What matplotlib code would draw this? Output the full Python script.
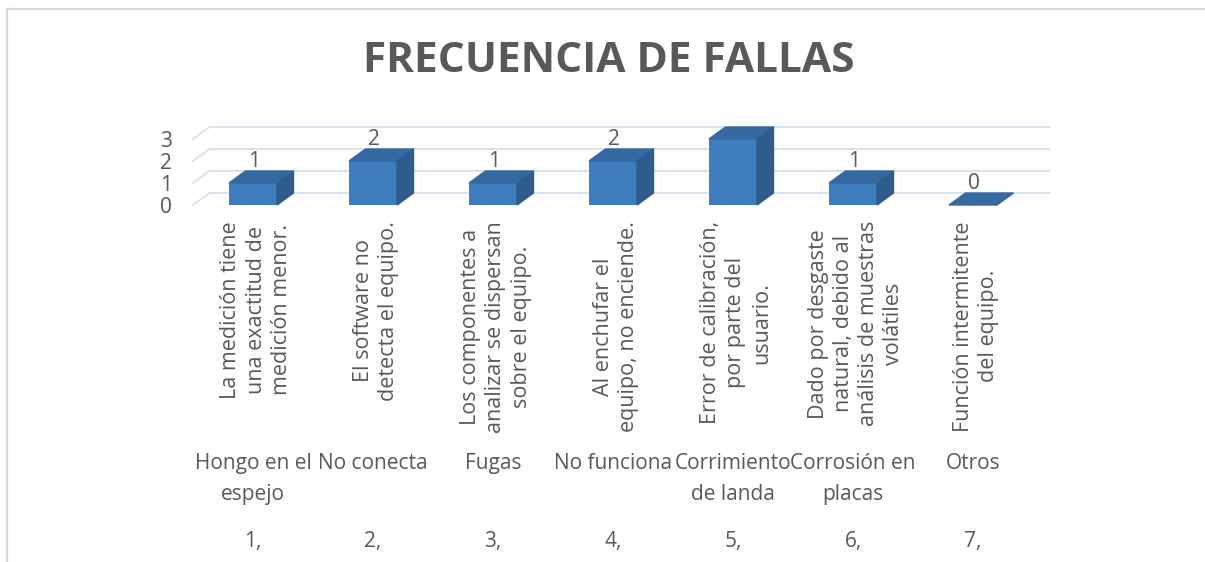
import matplotlib.pyplot as plt
from matplotlib.patches import Polygon
from matplotlib.lines import Line2D

# Data
descripciones = [
    "La medición tiene\nuna exactitud de\nmedición menor.",
    "El software no\ndetecta el equipo.",
    "Los componentes a\nanalizar se dispersan\nsobre el equipo.",
    "Al enchufar el\nequipo, no enciende.",
    "Error de calibración,\npor parte del\nusuario.",
    "Dado por desgaste\nnatural, debido al\nanálisis de muestras\nvolátiles",
    "Función intermitente\ndel equipo.",
]
fallas = ["Hongo en el\nespejo", "No conecta", "Fugas", "No funciona",
          "Corrimiento\nde landa", "Corrosión en\nplacas", "Otros"]
numeros = ["1,", "2,", "3,", "4,", "5,", "6,", "7,"]
frecuencia = [1, 2, 1, 2, 3, 1, 0]
y_ticks = [0, 1, 2, 3]

W, H = 1205, 562
TXT = "#595959"
GRID = "#D6E0EE"
FRONT = "#3E7EBE"
TOP = "#3569A0"
SIDE = "#2E5D8C"

plt.rcParams['font.family'] = ['Open Sans', 'DejaVu Sans']

fig = plt.figure(figsize=(W / 100, H / 100), dpi=100)

# chart border (left and top visible)
fig.add_artist(Line2D([7 / W, 7 / W], [0, 1 - 9 / H], color="#D9D9D9", lw=1.6))
fig.add_artist(Line2D([7 / W, 1], [1 - 9 / H, 1 - 9 / H], color="#D9D9D9", lw=1.6))

fig.text(609 / W, 1 - 62 / H, "FRECUENCIA DE FALLAS", ha="center", va="center",
         fontsize=30.5, fontweight="bold", color=TXT)

# plot area: front floor edge from x=193 to 1033 px at y=205 px, 22 px per unit
ax = fig.add_axes([193 / W, 1 - 205 / H, 840 / W, 66 / H])
n = len(frecuencia)
ax.set_xlim(-0.5, n - 0.5)
ax.set_ylim(0, 3)
for s in ax.spines.values():
    s.set_visible(False)
ax.set_xticks([])
ax.set_yticks(y_ticks)
ax.set_yticklabels([str(t) for t in y_ticks], fontsize=15, color=TXT)
ax.tick_params(axis="y", length=0, pad=15)
ax.patch.set_visible(False)

# depth of the 3D effect in data units
ddx = 16.5 / 120
ddy = 12 / 22

# back wall gridlines
for t in y_ticks:
    ax.plot([-0.5, -0.5 + ddx, n - 0.5 + ddx], [t, t + ddy, t + ddy],
            color=GRID, lw=1.3, clip_on=False, zorder=1)

# bars
w = 0.4
x = list(range(n))
ax.bar(x, frecuencia, width=w, color=FRONT, zorder=3, clip_on=False)
for i, v in enumerate(frecuencia):
    top = [(i - w / 2, v), (i + w / 2, v), (i + w / 2 + ddx, v + ddy), (i - w / 2 + ddx, v + ddy)]
    ax.add_patch(Polygon(top, closed=True, color=TOP, zorder=3, clip_on=False))
    if v > 0:
        side = [(i + w / 2, 0), (i + w / 2 + ddx, ddy), (i + w / 2 + ddx, v + ddy), (i + w / 2, v)]
        ax.add_patch(Polygon(side, closed=True, color=SIDE, zorder=3, clip_on=False))
    ax.annotate(str(v), xy=(i, v + ddy), xytext=(1, -1), textcoords="offset pixels",
                ha="center", va="bottom", fontsize=15, color=TXT)
    ax.annotate(descripciones[i], xy=(i, 0), xytext=(3, -16), textcoords="offset pixels",
                rotation=90, ha="center", va="top", multialignment="center",
                fontsize=15.5, color=TXT, linespacing=1.27)
    # second and third level category labels
    ax.annotate(fallas[i], xy=(i, 0), xytext=(0, -248), textcoords="offset pixels",
                ha="center", va="top", multialignment="center",
                fontsize=15, color=TXT, linespacing=1.6)
    ax.annotate(numeros[i], xy=(i, 0), xytext=(0, -337), textcoords="offset pixels",
                ha="center", va="center", fontsize=15, color=TXT)

fig.savefig("out.png", dpi=100)
